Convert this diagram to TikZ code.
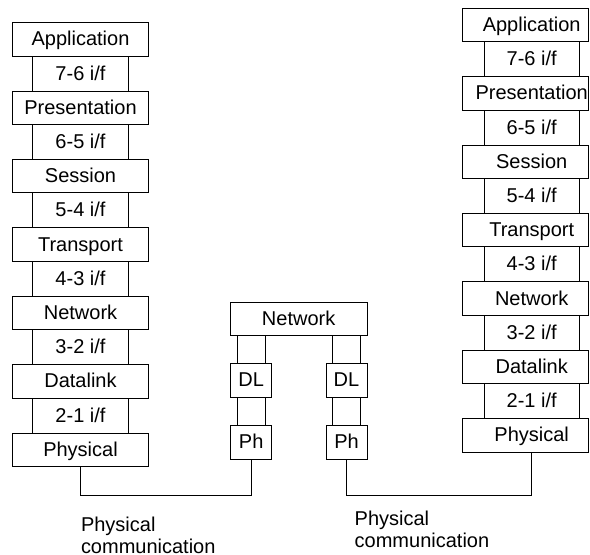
\documentclass[tikz,border=0pt]{standalone}
\usepackage{fontspec}
\setmainfont{Liberation Sans}
\begin{document}
\begin{tikzpicture}[x=1pt,y=-1pt,
  txt/.style={font=\fontsize{20}{21.3}\selectfont,text height=14.5pt,text depth=1.5pt},
  box/.style={draw,line width=0.9pt,inner sep=0pt,txt},
  layer/.style={box,minimum width=136.4pt,minimum height=33.4pt},
  iface/.style={box,minimum width=95.6pt,minimum height=35pt},
  rlayer/.style={box,minimum width=126.4pt,minimum height=33.4pt},
  rtext/.style={txt,inner sep=0pt,xshift=6.2pt},
  small/.style={box,minimum width=41pt,minimum height=34pt},
  wire/.style={line width=0.9pt},
  caption/.style={font=\fontsize{20}{21.3}\selectfont,align=left,inner sep=0pt,anchor=north west}
]
\useasboundingbox (0,0) rectangle (590,555);
\fill[white] (0,0) rectangle (590,555);

% left end system: seven layers and the interfaces between them
\foreach \t [count=\i from 0] in {Application,Presentation,Session,Transport,Network,Datalink,Physical}
  \node[layer] (L\i) at (80.5,39.4+68.4*\i) {\t};
\foreach \t [count=\i from 0] in {7-6,6-5,5-4,4-3,3-2,2-1}
  \node[iface] (LI\i) at (80.5,73.6+68.4*\i) {\t{} i/f};

% right end system, cut by the page edge
\foreach \t [count=\i from 0] in {Application,Presentation,Session,Transport,Network,Datalink,Physical}
  \node[rlayer,label={[rtext]center:\t}] (R\i) at (525.5,25+68.4*\i) {};
\foreach \t [count=\i from 0] in {7-6,6-5,5-4,4-3,3-2,2-1}
  \node[iface,minimum width=95.3pt] (RI\i) at (531.7,59.2+68.4*\i) {\t{} i/f};

% intermediate node (router)
\node[box,minimum width=137.3pt,minimum height=33.4pt] (net) at (298.65,319) {Network};
\node[small] (dlA) at (251.2,380.3) {DL};
\node[small] (phA) at (251.2,442) {Ph};
\node[small] (dlB) at (346.5,380.3) {DL};
\node[small] (phB) at (346.5,442) {Ph};

% interface lines inside the router
\foreach \b/\c in {dlA/phA,dlB/phB}{
  \draw[wire] ([xshift=7pt]\b.north west) -- ([xshift=7pt]\b.north west |- net.south);
  \draw[wire] ([xshift=-7pt]\b.north east) -- ([xshift=-7pt]\b.north east |- net.south);
  \draw[wire] ([xshift=7pt]\c.north west) -- ([xshift=7pt]\b.south west);
  \draw[wire] ([xshift=-7pt]\c.north east) -- ([xshift=-7pt]\b.south east);
}

% physical links
\coordinate (bus) at (0,495);
\draw[wire] (L6.south) -- (L6.south |- bus) -| (phA.south);
\draw[wire] (phB.south) -- (phB.south |- bus) -| ([xshift=6.2pt]R6.south);

\node[caption] (capA) at (80.8,517.1) {Physical\\communication};
\node[caption] (capB) at (354.5,511.1) {Physical\\communication};
\end{tikzpicture}
\end{document}
